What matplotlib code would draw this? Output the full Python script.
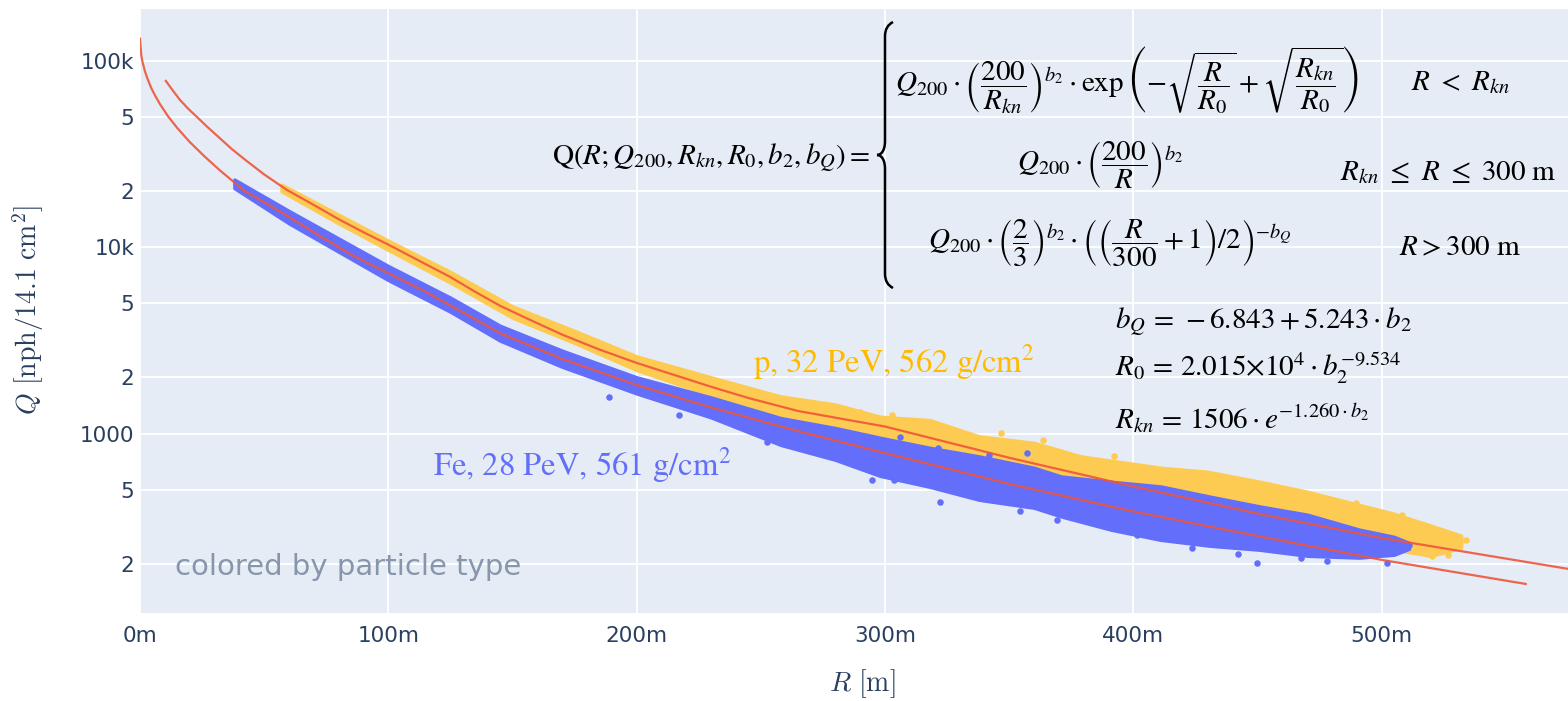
import numpy as np
import matplotlib
matplotlib.use("Agg")
import matplotlib.pyplot as plt
from matplotlib.path import Path
from matplotlib.patches import PathPatch

# fitted lateral distribution curves (R in m, Q in nph/14.1 cm^2)
fe_fit_r = [0, 0.5, 1, 2, 3, 4.5, 6, 8, 11.4, 15, 20, 26, 32, 42, 50, 60, 70, 85, 100,
            115, 130, 145, 170, 185, 200, 230, 265, 300, 350, 400, 450, 500, 558]
fe_fit_q = [131000, 107000, 98400, 87500, 80000, 71400, 65200, 58500, 50000, 43500,
            36600, 30600, 25900, 20000, 17400, 14500, 12000, 9100, 7240, 5750, 4470,
            3450, 2510, 2140, 1820, 1380, 1030, 785, 537, 382, 282, 210, 156]
p_fit_r = [10.4, 13, 16, 19.5, 22.8, 27, 32, 37, 42.3, 50, 59, 70, 80, 90, 100, 112,
           125, 135, 145, 157, 170, 185, 200, 230, 245, 265, 300, 350, 400, 450, 500, 575]
p_fit_q = [77800, 69700, 61700, 55000, 50000, 44200, 38500, 33500, 29400, 24500, 20300,
           16800, 14100, 12000, 10300, 8500, 6900, 5750, 4840, 4070, 3390, 2820, 2390,
           1780, 1550, 1320, 1090, 741, 520, 372, 275, 188]

# extent of the simulated detector signals (upper / lower envelope)
p_band_r = [57, 80, 100, 125, 150, 175, 200, 230, 258, 280, 298, 318, 338, 360, 379,
            411, 430, 451, 470, 491, 505, 520, 532]
p_band_hi = [21600, 14900, 10800, 7350, 4800, 3550, 2590, 2000, 1580, 1430, 1230, 1180,
             964, 891, 753, 655, 623, 551, 487, 414, 371, 320, 283]
p_band_lo = [19900, 13400, 9650, 6450, 4180, 3060, 2190, 1600, 1240, 1070, 960, 870,
             723, 623, 499, 441, 390, 344, 297, 253, 238, 221, 244]
fe_band_r = [38, 60, 100, 125, 145, 170, 200, 230, 258, 280, 298, 318, 338, 360, 371,
             391, 411, 431, 451, 470, 491, 505, 511]
fe_band_hi = [23000, 15600, 7900, 5350, 3780, 2780, 2000, 1560, 1210, 1070, 949, 838,
              753, 655, 588, 551, 520, 458, 406, 367, 305, 279, 259]
fe_band_lo = [20700, 13400, 6650, 4500, 3150, 2280, 1640, 1220, 869, 723, 593, 518,
              441, 400, 359, 305, 269, 250, 238, 221, 216, 224, 241]

# isolated stations away from the dense bands
p_out_r = [290, 303, 323.5, 346.7, 363.8, 392, 420.2, 444.4, 489.5, 508.3, 513, 520.3,
           526.5, 528.7, 534.1]
p_out_q = [1310, 1250, 1090, 1005, 925, 760, 614, 553, 424, 366, 320, 220, 223, 275, 269]
fe_out_r = [189, 216.9, 252.5, 294.8, 303.5, 306, 321.5, 322, 341.7, 354.5, 357.2, 369.3,
            401.3, 423.4, 442.3, 449.6, 467.4, 478, 502.3, 511]
fe_out_q = [1560, 1260, 895, 565, 565, 963, 835, 427, 769, 382, 785, 345, 286, 243, 226,
            202, 215, 206, 203, 253]

x_ticks = [0, 100, 200, 300, 400, 500]
x_labels = ["0m", "100m", "200m", "300m", "400m", "500m"]
y_ticks = [200, 500, 1000, 2000, 5000, 10000, 20000, 50000, 100000]
y_labels = ["2", "5", "1000", "2", "5", "10k", "2", "5", "100k"]

W, H = 1568, 701
BLUE = "#636EFA"
GOLD = "#FECB52"
RED = "#EF553B"
INK = "#2a3f5f"

fig = plt.figure(figsize=(W / 100, H / 100), dpi=100)
ax = fig.add_axes([140 / W, 1 - 613 / H, (W - 140) / W, (613 - 9) / H])
ax.set_facecolor("#E5ECF6")
ax.set_yscale("log")
ax.set_xlim(0, 575)
ax.set_ylim(109, 189000)

ax.fill_between(p_band_r, p_band_lo, p_band_hi, color=GOLD, lw=2.5, ec=GOLD, zorder=2)
ax.fill_between(fe_band_r, fe_band_lo, fe_band_hi, color=BLUE, lw=2.5, ec=BLUE, zorder=3)
ax.scatter(p_out_r, p_out_q, s=22, color=GOLD, lw=0, zorder=3)
ax.scatter(fe_out_r, fe_out_q, s=22, color=BLUE, lw=0, zorder=3)
ax.plot(fe_fit_r, fe_fit_q, color=RED, lw=1.6, alpha=0.9, zorder=4)
ax.plot(p_fit_r, p_fit_q, color=RED, lw=1.6, alpha=0.9, zorder=4)

ax.set_xticks(x_ticks)
ax.set_xticklabels(x_labels)
ax.set_yticks(y_ticks)
ax.set_yticklabels(y_labels)
ax.set_yticks([], minor=True)
ax.grid(True, color="white", lw=1.3)
ax.set_axisbelow(True)
ax.tick_params(length=0, labelsize=15.5, labelcolor=INK)
ax.tick_params(axis="y", pad=4)
ax.tick_params(axis="x", pad=9)
for s in ax.spines.values():
    s.set_visible(False)


def px(x, y):
    return x / W, 1 - y / H


fig.text(*px(28, 310), r"$Q\ [\mathrm{nph}/14.1\ \mathrm{cm}^2]$", rotation=90,
         ha="center", va="center", fontsize=20, color=INK, math_fontfamily="cm")
fig.text(*px(862, 684), r"$R\ [\mathrm{m}]$", ha="center", va="center",
         fontsize=20, color=INK, math_fontfamily="cm")

fig.text(*px(175, 567), "colored by particle type", fontsize=21, color="#8796AA",
         va="center", ha="left")
fig.text(*px(894, 362), r"p, 32 PeV, 562 g/cm$^2$", ha="center", va="center",
         fontsize=23.5, color="#FFBA00", family="STIXGeneral", math_fontfamily="stix")
fig.text(*px(582, 465), r"Fe, 28 PeV, 561 g/cm$^2$", ha="center", va="center",
         fontsize=23.5, color=BLUE, family="STIXGeneral", math_fontfamily="stix")

# piecewise fit function
fs = 21
mt = dict(fontsize=fs, color="black", math_fontfamily="stix", va="center")
fig.text(*px(870, 158), r"$\mathrm{Q}(R;Q_{200},R_{kn},R_0,b_2,b_Q)=$", ha="right", **mt)
fig.text(*px(895, 80), r"$Q_{200}\cdot\left(\dfrac{200}{R_{kn}}\right)^{b_2}\cdot\exp\left(-\sqrt{\dfrac{R}{R_0}}+\sqrt{\dfrac{R_{kn}}{R_0}}\right)$",
         ha="left", **mt)
fig.text(*px(1461, 82), r"$R\ <\ R_{kn}$", ha="center", **mt)
fig.text(*px(1100, 165), r"$Q_{200}\cdot\left(\dfrac{200}{R}\right)^{b_2}$", ha="center", **mt)
fig.text(*px(1448, 172), r"$R_{kn}\ \leq\ R\ \leq\ 300\ \mathrm{m}$", ha="center", **mt)
fig.text(*px(928, 243), r"$Q_{200}\cdot\left(\dfrac{2}{3}\right)^{b_2}\cdot\left(\left(\dfrac{R}{300}+1\right)/2\right)^{-b_Q}$",
         ha="left", **mt)
fig.text(*px(1460, 247), r"$R>300\ \mathrm{m}$", ha="center", **mt)
fig.text(*px(1115, 322), r"$b_Q\,=\,-6.843+5.243\cdot b_2$", ha="left", **mt)
fig.text(*px(1115, 368), r"$R_0\,=\,2.015{\times}10^4\cdot b_2^{-9.534}$", ha="left", **mt)
fig.text(*px(1115, 418), r"$R_{kn}\,=\,1506\cdot e^{-1.260\cdot b_2}$", ha="left", **mt)

# curly brace joining the three cases
bx, top, mid, bot = 885, 22, 155, 288
verts = [(bx + 8, top), (bx, top + 4), (bx, top + 14),
         (bx, mid - 14),
         (bx, mid - 4), (bx - 4, mid), (bx - 8, mid),
         (bx - 4, mid), (bx, mid + 4), (bx, mid + 14),
         (bx, bot - 14),
         (bx, bot - 4), (bx + 8, bot)]
codes = [Path.MOVETO, Path.CURVE3, Path.CURVE3, Path.LINETO, Path.CURVE4, Path.CURVE4,
         Path.CURVE4, Path.CURVE4, Path.CURVE4, Path.CURVE4, Path.LINETO, Path.CURVE3,
         Path.CURVE3]
verts = [px(x, y) for x, y in verts]
fig.patches.append(PathPatch(Path(verts, codes), transform=fig.transFigure, fc="none",
                             ec="black", lw=1.8))

fig.savefig("out.png", dpi=100)
